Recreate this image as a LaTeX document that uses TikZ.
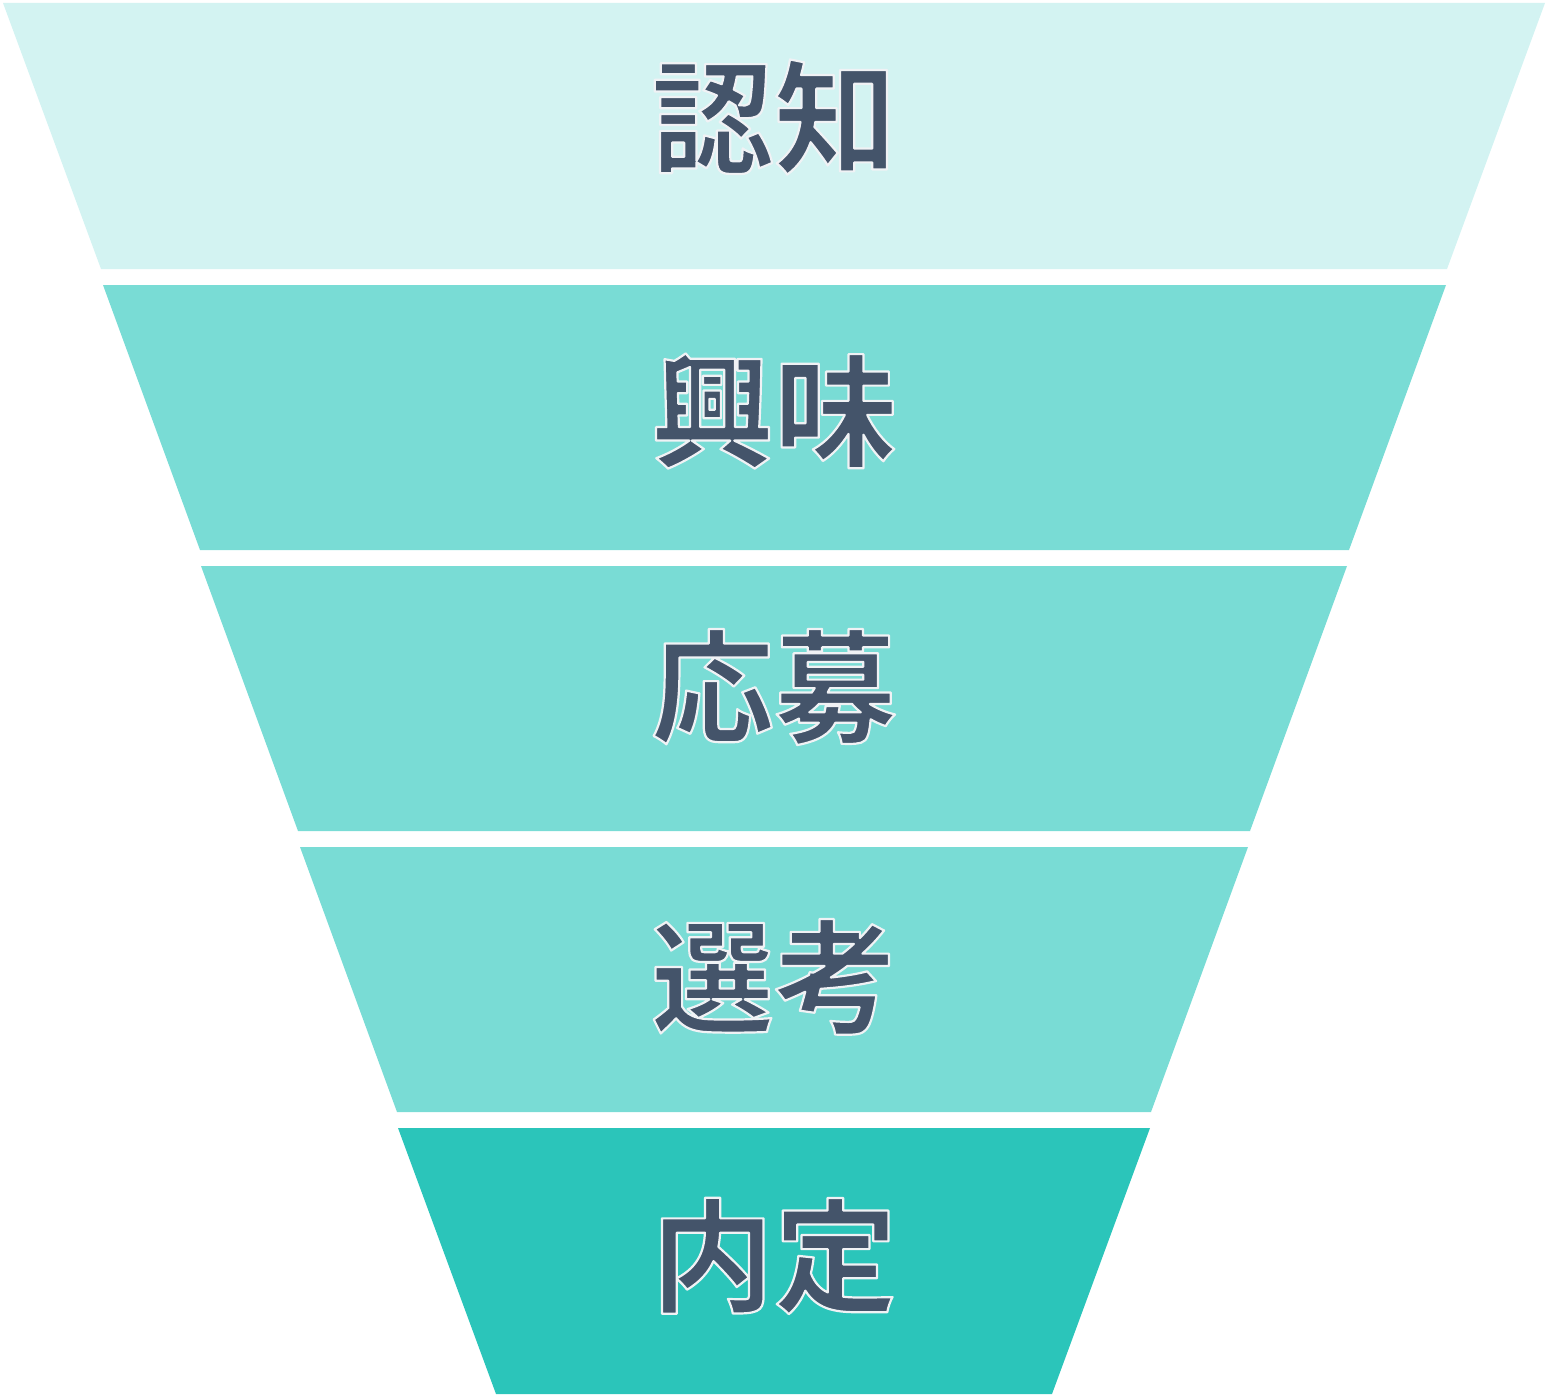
\documentclass[tikz,border=0pt]{standalone}
\usepackage{fontspec}
\newfontfamily\cjk{Noto Sans CJK JP Bold}
\definecolor{lev1}{HTML}{D3F3F2}
\definecolor{lev2}{HTML}{79DCD5}
\definecolor{lev5}{HTML}{2BC5BA}
\definecolor{txt}{HTML}{44546A}
\newcommand{\otext}[1]{\textcolor{txt}{\special{pdf:literal direct 2 Tr 2.2 w 1 j 0.94 0.95 0.96 RG}#1\special{pdf:literal direct 0 Tr}}}
\begin{document}
\begin{tikzpicture}[x=1pt,y=-1pt,
  lbl/.style={font=\cjk\fontsize{123}{123}\selectfont,inner sep=0pt}]
\useasboundingbox (0,0) rectangle (1548,1397);
\fill[lev1] (3,3) -- (1545,3) -- (1447,269) -- (101,269) -- cycle;
\fill[lev2] (103,285) -- (1446,285) -- (1349,550) -- (200,550) -- cycle;
\fill[lev2] (201,566) -- (1347,566) -- (1250,831) -- (298,831) -- cycle;
\fill[lev2] (300,847) -- (1248,847) -- (1151,1112) -- (397,1112) -- cycle;
\fill[lev5] (398,1128) -- (1150,1128) -- (1052,1394) -- (496,1394) -- cycle;
\node[lbl] (t1) at (774,117) {\otext{認知}};
\node[lbl] (t2) at (774,411) {\otext{興味}};
\node[lbl] (t3) at (774,687) {\otext{応募}};
\node[lbl] (t4) at (774,977) {\otext{選考}};
\node[lbl] (t5) at (774,1256) {\otext{内定}};
\end{tikzpicture}
\end{document}
